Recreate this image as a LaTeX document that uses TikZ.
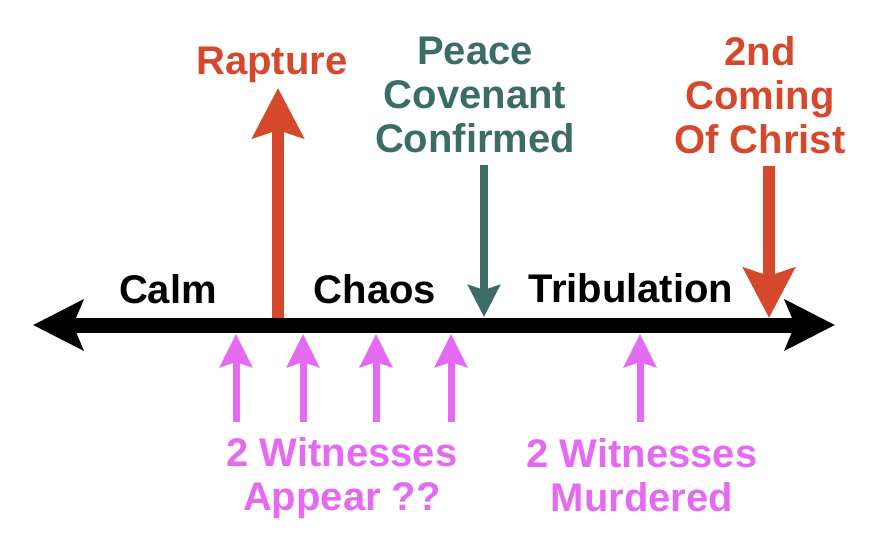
\documentclass[tikz,border=0pt]{standalone}
\usepackage{fontspec}
\setmainfont{Liberation Sans}
\usetikzlibrary{arrows.meta}
\definecolor{redc}{HTML}{D6482B}
\definecolor{tealc}{HTML}{3C6C66}
\definecolor{pinkc}{HTML}{E46AF2}
\tikzset{
  lbl/.style={font=\bfseries\fontsize{40}{44}\selectfont, inner sep=0pt, align=center},
  mainline/.style={line width=15pt, black, {Stealth[length=50pt,width=50pt,inset=10pt]}-{Stealth[length=50pt,width=50pt,inset=10pt]}},
  bigarrow/.style={line width=12pt, redc, -{Stealth[length=50pt,width=51pt,inset=8pt]}},
  greenarrow/.style={line width=8pt, tealc, -{Stealth[length=32pt,width=32pt,inset=5pt]}},
  pinkarrow/.style={line width=7pt, pinkc, -{Stealth[length=33pt,width=32pt,inset=5pt]}}
}
\begin{document}
\begin{tikzpicture}[x=1pt,y=-1pt]
\useasboundingbox (0,0) rectangle (890,542);
% coordinates
\coordinate (L) at (33,325);
\coordinate (R) at (835,325);
\coordinate (rapB) at (278,325);
\coordinate (rapT) at (278,88);
\coordinate (secT) at (769,166);
\coordinate (secB) at (769,318);
\coordinate (peaT) at (484,165);
\coordinate (peaB) at (484,317);
\foreach \n/\x in {p1/236,p2/303,p3/376,p4/451,p5/640}{
  \coordinate (\n B) at (\x,422);
  \coordinate (\n T) at (\x,334);
}
% arrows
\draw[bigarrow] (rapB) -- (rapT);
\draw[mainline] (L) -- (R);
\draw[bigarrow] (secT) -- (secB);
\draw[greenarrow] (peaT) -- (peaB);
\foreach \n in {p1,p2,p3,p4,p5}{
  \draw[pinkarrow] (\n B) -- (\n T);
}
% labels
\node[lbl, text=redc] (rapture) at (272,65) {Rapture};
\node[lbl, text=tealc] (peace) at (475,95) {Peace\\Covenant\\Confirmed};
\node[lbl, text=redc] (second) at (760,95) {2nd\\Coming\\Of Christ};
\node[lbl] (calm) at (168,289) {Calm};
\node[lbl] (chaos) at (375,289) {Chaos};
\node[lbl] (trib) at (631,288) {Tribulation};
\node[lbl, text=pinkc] (appear) at (342,478) {2 Witnesses\\Appear ??};
\node[lbl, text=pinkc] (murder) at (642,475) {2 Witnesses\\Murdered};
\end{tikzpicture}
\end{document}
